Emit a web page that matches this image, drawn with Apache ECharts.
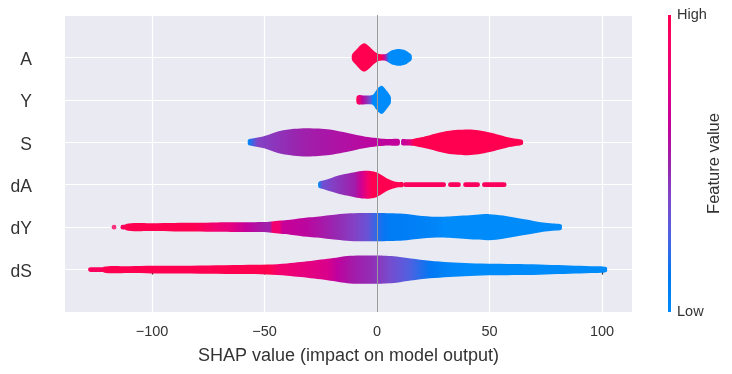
<!DOCTYPE html>
<html>
<head>
<meta charset="utf-8">
<script src="https://cdn.jsdelivr.net/npm/echarts@6/dist/echarts.min.js"></script>
<style>
  html, body { margin: 0; background: #fff; }
  #main { width: 732px; height: 374px; }
</style>
</head>
<body>
<div id="main"></div>
<script>
// rows, bottom to top
const features = ['dS', 'dY', 'dA', 'S', 'Y', 'A'];
const xTicks = [-100, -50, 0, 50, 100];

// violin outlines: shap value and relative half width (1 = widest)
const A_x = [-11.1, -9.5, -7.5, -5.7, -4, -2, 0, 2, 4, 5.5, 7, 10, 12.5, 14, 15.3];
const A_w = [0.2, 0.5, 0.85, 1.0, 0.85, 0.55, 0.3, 0.22, 0.25, 0.4, 0.52, 0.59, 0.5, 0.35, 0.18];
// colour profile: shap value and feature value (0 low .. 1 high)
const A_cx = [-11.1, 1.8, 3, 4, 5.2];
const A_cv = [1, 1, 0.72, 0.45, 0];

const Y_x = [-9.1, -8.3, -7, -5, -3, -1.7, -0.5, 1, 2, 3, 4.5, 5.5, 6.1];
const Y_w = [0.22, 0.33, 0.33, 0.31, 0.31, 0.38, 0.65, 0.92, 1.0, 0.9, 0.6, 0.38, 0.2];
const Y_cx = [-9.1, -8, -6.5, -4.5, -3, -1.8];
const Y_cv = [1, 0.85, 0.6, 0.45, 0.3, 0];

const S1_x = [-57.3, -55.5, -53, -50.7, -47, -43.2, -37, -31.3, -26, -21, -15, -9.1, -4, 1.2, 5, 9.8];
const S1_w = [0.18, 0.26, 0.34, 0.41, 0.6, 0.79, 0.95, 1.0, 0.97, 0.9, 0.72, 0.52, 0.37, 0.27, 0.23, 0.21];
const S1_cx = [-57.3, -56, -53, -45, -35, -25, -10, 0, 9.8];
const S1_cv = [0, 0.2, 0.4, 0.44, 0.5, 0.54, 0.58, 0.61, 0.63];

const S2_x = [10.9, 13, 16, 19.5, 23.5, 27, 31, 36, 40.5, 45, 50.2, 54, 57.6, 62, 64.7];
const S2_w = [0.2, 0.22, 0.24, 0.35, 0.5, 0.65, 0.79, 0.88, 0.91, 0.85, 0.69, 0.53, 0.38, 0.25, 0.15];
const S2_cx = [10.9, 14, 16.5];
const S2_cv = [0.63, 0.7, 1];

const dA_x = [-26, -24, -20, -15.7, -10, -5.8, -3, 0, 2, 4.1, 6.5, 9, 11.6];
const dA_w = [0.19, 0.3, 0.5, 0.7, 0.88, 0.98, 0.97, 0.86, 0.68, 0.47, 0.3, 0.19, 0.15];
const dA_cx = [-26, -24.5, -20, -15.7, -10, -7, -4, -2];
const dA_cv = [0, 0.33, 0.4, 0.45, 0.52, 0.68, 0.88, 1];

const dY_x = [-111.6, -100, -90, -81, -71, -65, -56, -49, -47, -43, -38.6, -31, -26.8, -18, -12, -4.5,
  0, 5.7, 11.6, 18, 26.4, 32, 38.3, 44, 49.8, 56, 63.5, 69, 73.8, 78, 81.9];
const dY_w = [0.22, 0.28, 0.3, 0.31, 0.33, 0.34, 0.35, 0.36, 0.4, 0.47, 0.53, 0.68, 0.74, 0.9, 0.98, 1.0,
  1.0, 0.98, 0.94, 0.83, 0.73, 0.75, 0.82, 0.88, 0.92, 0.82, 0.61, 0.46, 0.33, 0.25, 0.18];
const dY_cx = [-111.6, -81, -72, -65, -58, -50, -47.5, -46.5, -43.5, -42, -31, -18, -10, -4, 0, 3, 6, 15, 26, 30];
const dY_cv = [1, 1, 0.85, 0.78, 0.63, 0.52, 0.52, 0.87, 0.85, 0.65, 0.6, 0.48, 0.4, 0.32, 0.2, 0.14, 0.1, 0.08, 0.04, 0];

const dS_x = [-121.5, -110, -100, -90, -75, -60, -48.7, -40, -34, -28, -22, -17, -12, -6, 0, 4, 8.6,
  15, 23.4, 32, 41.2, 52, 63.4, 75, 85.6, 95, 101.9];
const dS_w = [0.2, 0.24, 0.27, 0.27, 0.29, 0.32, 0.35, 0.43, 0.53, 0.64, 0.76, 0.88, 0.98, 1.0, 1.0, 0.98, 0.93,
  0.78, 0.62, 0.52, 0.45, 0.41, 0.39, 0.34, 0.29, 0.24, 0.18];
const dS_cx = [-121.5, -48, -44, -34, -22, -18, -10, -3, 5.7, 14.6, 23.4, 32, 40];
const dS_cv = [1, 1, 0.87, 0.8, 0.72, 0.62, 0.52, 0.47, 0.36, 0.26, 0.13, 0.04, 0];

// outlier points outside the violins (runs of dots: first and last centre)
const dA_dotRuns = [[12.6, 29.6], [32.6, 36.2], [39.3, 44.7], [47.7, 56.5]];
const dY_dotRuns = [[-113, -112]];
const dS_dotRuns = [[-127.4, -122]];
const dY_dots = [-116.9];

const pieces = [
  { row: 'A', x: A_x, w: A_w, cx: A_cx, cv: A_cv },
  { row: 'Y', x: Y_x, w: Y_w, cx: Y_cx, cv: Y_cv },
  { row: 'S', x: S1_x, w: S1_w, cx: S1_cx, cv: S1_cv },
  { row: 'S', x: S2_x, w: S2_w, cx: S2_cx, cv: S2_cv },
  { row: 'dA', x: dA_x, w: dA_w, cx: dA_cx, cv: dA_cv },
  { row: 'dY', x: dY_x, w: dY_w, cx: dY_cx, cv: dY_cv },
  { row: 'dS', x: dS_x, w: dS_w, cx: dS_cx, cv: dS_cv }
];

const runs = [];
[['dA', dA_dotRuns], ['dY', dY_dotRuns], ['dS', dS_dotRuns]].forEach(([f, list]) => {
  list.forEach(r => runs.push([r[0], r[1], features.indexOf(f)]));
});

// shap red_blue colour map
const cmapStops = [[0, '#008bfb'], [0.125, '#0078f3'], [0.25, '#4b63e3'], [0.375, '#7d49cb'],
  [0.5, '#9b23ad'], [0.625, '#c2009c'], [0.75, '#e00086'], [0.875, '#f5006c'], [1, '#ff0051']];

function hex2rgb(h) {
  return [1, 3, 5].map(i => parseInt(h.substr(i, 2), 16));
}
function cmap(t) {
  t = Math.max(0, Math.min(1, t));
  for (let i = 1; i < cmapStops.length; i++) {
    if (t <= cmapStops[i][0]) {
      const t0 = cmapStops[i - 1][0], t1 = cmapStops[i][0];
      const a = hex2rgb(cmapStops[i - 1][1]), b = hex2rgb(cmapStops[i][1]);
      const f = (t - t0) / (t1 - t0);
      return 'rgb(' + a.map((v, k) => Math.round(v + (b[k] - v) * f)).join(',') + ')';
    }
  }
  return cmapStops[cmapStops.length - 1][1];
}

const dotColor = cmap(0.95);
const font = "'Liberation Sans', Arial, sans-serif";

function renderViolin(params, api) {
  const p = pieces[api.value(0)];
  const row = features.indexOf(p.row);
  const half = api.size([0, 1])[1] / 3;
  const top = [], bot = [];
  p.x.forEach((v, i) => {
    const c = api.coord([v, row]);
    top.push([c[0], c[1] - p.w[i] * half]);
    bot.unshift([c[0], c[1] + p.w[i] * half]);
  });
  const x0 = top[0][0], x1 = top[top.length - 1][0];
  const stops = p.cx.map((v, j) => ({
    offset: Math.min(1, Math.max(0, (api.coord([v, row])[0] - x0) / (x1 - x0))),
    color: cmap(p.cv[j])
  }));
  return {
    type: 'polygon',
    shape: { points: top.concat(bot), smooth: 0.3 },
    style: { fill: new echarts.graphic.LinearGradient(x0, 0, x1, 0, stops, true) }
  };
}

function renderRun(params, api) {
  const a = api.coord([api.value(0), api.value(2)]);
  const b = api.coord([api.value(1), api.value(2)]);
  return {
    type: 'line',
    shape: { x1: a[0], y1: a[1], x2: b[0], y2: b[1] },
    style: { stroke: dotColor, lineWidth: 4.7, lineCap: 'round' }
  };
}

const chart = echarts.init(document.getElementById('main'));
chart.setOption({
  animation: false,
  backgroundColor: '#fff',
  grid: { left: 65, right: 100, top: 15, bottom: 62, show: true, backgroundColor: '#eaeaf2', borderWidth: 0 },
  xAxis: {
    type: 'value', min: -138.7, max: 113.3, splitNumber: 5, offset: 3,
    name: 'SHAP value (impact on model output)', nameLocation: 'middle', nameGap: 32,
    nameTextStyle: { fontFamily: font, fontSize: 18, color: '#333' },
    axisLine: { show: false },
    axisTick: { show: true, customValues: xTicks, length: 5, lineStyle: { color: '#333', width: 1.2 } },
    axisLabel: {
      customValues: xTicks, margin: 9, fontFamily: font, fontSize: 14.5, color: '#333',
      formatter: v => (v < 0 ? '\u2212' + Math.abs(v) : String(v))
    },
    splitLine: { show: true, lineStyle: { color: '#fff', width: 1.2 } }
  },
  yAxis: {
    type: 'value', min: -1, max: 6, interval: 1,
    axisLine: { show: false }, axisTick: { show: false },
    axisLabel: {
      margin: 33, fontFamily: font, fontSize: 17.5, color: '#333',
      verticalAlign: 'top', lineHeight: 5,
      formatter: v => features[v] || ''
    },
    splitLine: { show: true, lineStyle: { color: '#fff', width: 1.2 } }
  },
  graphic: [
    {
      type: 'rect', left: 668, top: 15, silent: true,
      shape: { width: 3, height: 297 },
      style: {
        fill: new echarts.graphic.LinearGradient(0, 1, 0, 0,
          cmapStops.map(s => ({ offset: s[0], color: s[1] })))
      }
    },
    { type: 'text', x: 677, y: 15, style: { text: 'High', fontFamily: font, fontSize: 14.5, fill: '#333', verticalAlign: 'middle' } },
    { type: 'text', x: 677, y: 312, style: { text: 'Low', fontFamily: font, fontSize: 14.5, fill: '#333', verticalAlign: 'middle' } },
    {
      type: 'text', x: 714, y: 163.5, rotation: Math.PI / 2,
      style: { text: 'Feature value', fontFamily: font, fontSize: 16.5, fill: '#333', align: 'center', verticalAlign: 'middle' }
    }
  ],
  series: [
    {
      type: 'scatter', z: 1, silent: true, data: [],
      markLine: {
        silent: true, symbol: ['none', 'none'], label: { show: false },
        lineStyle: { color: '#999', width: 1, type: 'solid' },
        data: [{ xAxis: 0 }]
      }
    },
    {
      type: 'custom', z: 2, silent: true, renderItem: renderRun,
      encode: { x: [0, 1], y: 2 }, data: runs
    },
    {
      type: 'scatter', z: 2, silent: true, symbolSize: 4.7,
      itemStyle: { color: dotColor },
      data: dY_dots.map(v => [v, features.indexOf('dY')])
    },
    {
      type: 'custom', z: 3, silent: true, renderItem: renderViolin,
      encode: { x: 0, y: 0 }, data: pieces.map((p, i) => [i])
    }
  ]
});
</script>
</body>
</html>
